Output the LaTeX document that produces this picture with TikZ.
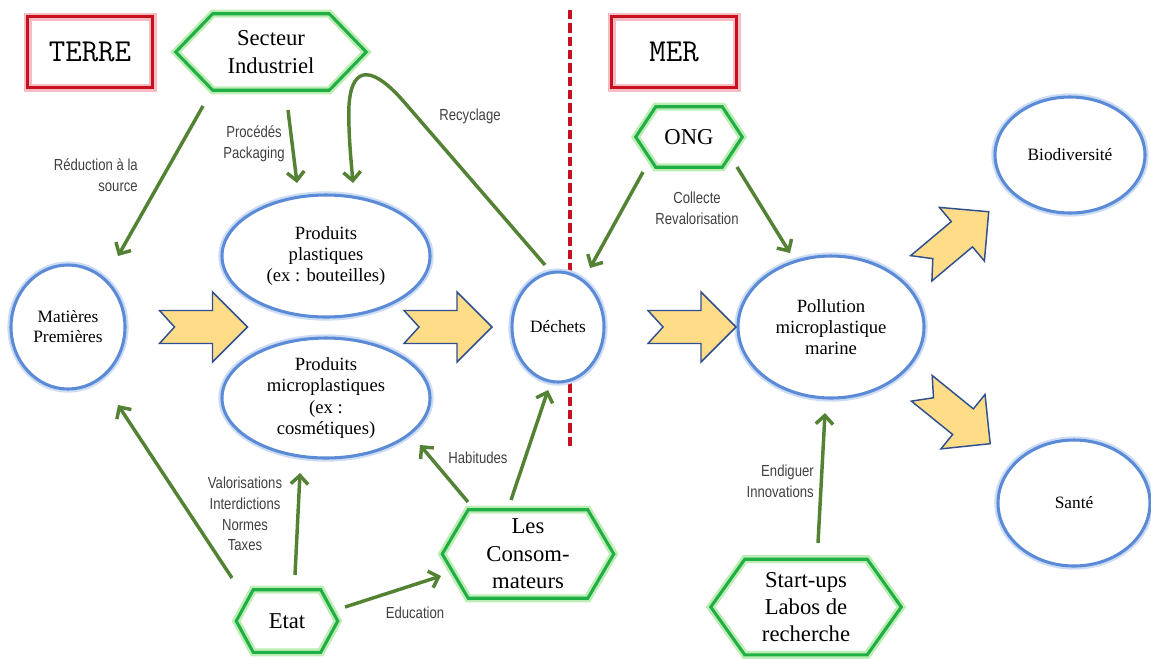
\documentclass[tikz,border=0pt]{standalone}
\usepackage{fontspec}
\setmainfont{Liberation Serif}
\newfontfamily\lblfont[FakeStretch=0.82]{Liberation Sans}
\usetikzlibrary{shapes.geometric,arrows.meta,calc}
\definecolor{cgreen}{HTML}{548235}
\definecolor{hexgreen}{HTML}{1FAF45}
\definecolor{hexglow}{HTML}{BDEDB5}
\definecolor{ellblue}{HTML}{5B8BD6}
\definecolor{ellglow}{HTML}{CCDCF5}
\definecolor{boxred}{HTML}{C8101E}
\definecolor{boxglow}{HTML}{F5BCC4}
\definecolor{arrfill}{HTML}{FFDC88}
\definecolor{arrline}{HTML}{2F4F8F}
\definecolor{lblgray}{HTML}{404040}
\tikzset{
  ell/.style={ellipse, draw=ellblue, fill=white, line width=2.3pt, inner sep=0pt, align=center,
    preaction={draw=ellglow, line width=5.5pt}},
  bigtxt/.style={font=\fontsize{14}{16}\selectfont},
  smalltxt/.style={font=\fontsize{13}{15}\selectfont},
  hexnode/.style={rectangle, inner sep=0pt, align=center, font=\fontsize{17}{20.5}\selectfont},
  hexline/.style={draw=hexgreen, line width=2.3pt, preaction={draw=hexglow, line width=6pt}},
  redbox/.style={rectangle, draw=boxred, line width=2.7pt, preaction={draw=boxglow, line width=6pt},
    font=\ttfamily\fontsize{24}{28}\selectfont, minimum width=125*0.75pt, minimum height=71*0.75pt},
  conn/.style={draw=cgreen, line width=2.6pt, -{Straight Barb[length=6.5pt,width=13pt]}},
  lbl/.style={font=\lblfont\fontsize{12}{15.5}\selectfont, text=lblgray, align=center, inner sep=0pt},
  sepline/.style={draw=boxred, line width=2.7pt, dash pattern=on 7pt off 3pt},
  barrow/.pic={\draw[fill=arrfill, draw=arrline, line width=1.1pt, line join=miter]
    (-44,-16.5) -- (9,-16.5) -- (9,-35) -- (44,0) -- (9,35) -- (9,16.5) -- (-44,16.5) -- (-29,0) -- cycle;}
}
\newcommand\hexborder[2]{\draw[hexline] (#1.west) -- ([xshift=#2*0.75pt]#1.north west)
  -- ([xshift=-#2*0.75pt]#1.north east) -- (#1.east) -- ([xshift=-#2*0.75pt]#1.south east)
  -- ([xshift=#2*0.75pt]#1.south west) -- cycle;}
\begin{document}
\begin{tikzpicture}[x=0.75pt,y=-0.75pt]
\useasboundingbox (0,0) rectangle (1151,658);
% separator
\coordinate (dtop) at (570,10);
\coordinate (dbot) at (570,450);
\draw[sepline] (dtop) -- (dbot);
% boxes
\node[redbox] (terre) at (90,52) {TERRE};
\node[redbox] (mer) at (674,52) {MER};
% hexagon actors
\node[hexnode, minimum width=190*0.75pt, minimum height=76*0.75pt] (secteur) at (271,52) {Secteur\\Industriel};
\node[hexnode, minimum width=106*0.75pt, minimum height=60*0.75pt] (ong) at (689,137) {ONG};
\node[hexnode, minimum width=101*0.75pt, minimum height=62*0.75pt] (etat) at (287,621) {Etat};
\node[hexnode, minimum width=171*0.75pt, minimum height=88*0.75pt] (conso) at (528,554) {Les\\Consom-\\mateurs};
\node[hexnode, minimum width=190*0.75pt, minimum height=95*0.75pt] (startups) at (806,607) {Start-ups\\Labos de\\recherche};
\hexborder{secteur}{37}
\hexborder{ong}{20}
\hexborder{etat}{17}
\hexborder{conso}{26}
\hexborder{startups}{34}
% ellipses
\node[ell, smalltxt, minimum width=114*0.75pt, minimum height=124*0.75pt] (matieres) at (68,327) {Matières\\Premières};
\node[ell, bigtxt, minimum width=208*0.75pt, minimum height=122*0.75pt] (plast) at (326,256) {Produits\\plastiques\\(ex : bouteilles)};
\node[ell, bigtxt, minimum width=208*0.75pt, minimum height=120*0.75pt] (micro) at (326,398) {Produits\\microplastiques\\(ex :\\cosmétiques)};
\node[ell, smalltxt, minimum width=92*0.75pt, minimum height=110*0.75pt] (dechets) at (558,327) {Déchets};
\node[ell, bigtxt, minimum width=186*0.75pt, minimum height=142*0.75pt] (pollution) at (831,327) {Pollution\\microplastique\\marine};
\node[ell, smalltxt, minimum width=150*0.75pt, minimum height=116*0.75pt] (bio) at (1070,155) {Biodiversité};
\node[ell, smalltxt, minimum width=152*0.75pt, minimum height=126*0.75pt] (sante) at (1074,503) {Santé};
% block arrows
\pic at (203.5,327) {barrow};
\pic at (448,327) {barrow};
\pic at (692,327) {barrow};
\pic[rotate=40] at (955,240) {barrow};
\pic[rotate=-39] at (956,416) {barrow};
% green connectors
\draw[conn] ([shift={(-68,54)}]secteur.center) -- ([shift={(50,-71)}]matieres.center);
\draw[conn] ([shift={(17,58)}]secteur.center) -- ([shift={(-29,-73)}]plast.center);
\draw[conn] ([shift={(-13,-62)}]dechets.center) -- (405,103) .. controls (375,68) and (352,62) .. (349,105)
  .. controls (348,130) and (351,160) .. ([shift={(27,-73)}]plast.center);
\draw[conn] ([shift={(-46,35)}]ong.center) -- ([shift={(32,-59)}]dechets.center);
\draw[conn] ([shift={(48,30)}]ong.center) -- ([shift={(-41,-74)}]pollution.center);
\draw[conn] ([shift={(12,-64)}]startups.center) -- ([shift={(-6,86)}]pollution.center);
\draw[conn] ([shift={(-55,-43)}]etat.center) -- ([shift={(50,78)}]matieres.center);
\draw[conn] ([shift={(8,-46)}]etat.center) -- ([shift={(-26,75)}]micro.center);
\draw[conn] ([shift={(58,-14)}]etat.center) -- ([shift={(-87,22)}]conso.center);
\draw[conn] ([shift={(-60,-52)}]conso.center) -- ([shift={(94,47)}]micro.center);
\draw[conn] ([shift={(-17,-54)}]conso.center) -- ([shift={(-10,63)}]dechets.center);
% labels
\node[lbl, align=right, anchor=east] (lred) at (138,175) {Réduction à la\\source};
\node[lbl] (lproc) at (254,144) {Procédés\\Packaging};
\node[lbl] (lrec) at (470,116) {Recyclage};
\node[lbl] (lcol) at (697,208) {Collecte\\Revalorisation};
\node[lbl, align=right, anchor=east] (lend) at (814,481) {Endiguer\\Innovations};
\node[lbl] (lval) at (245,514) {Valorisations\\Interdictions\\Normes\\Taxes};
\node[lbl] (ledu) at (415,613) {Education};
\node[lbl] (lhab) at (478,458) {Habitudes};
\end{tikzpicture}
\end{document}
